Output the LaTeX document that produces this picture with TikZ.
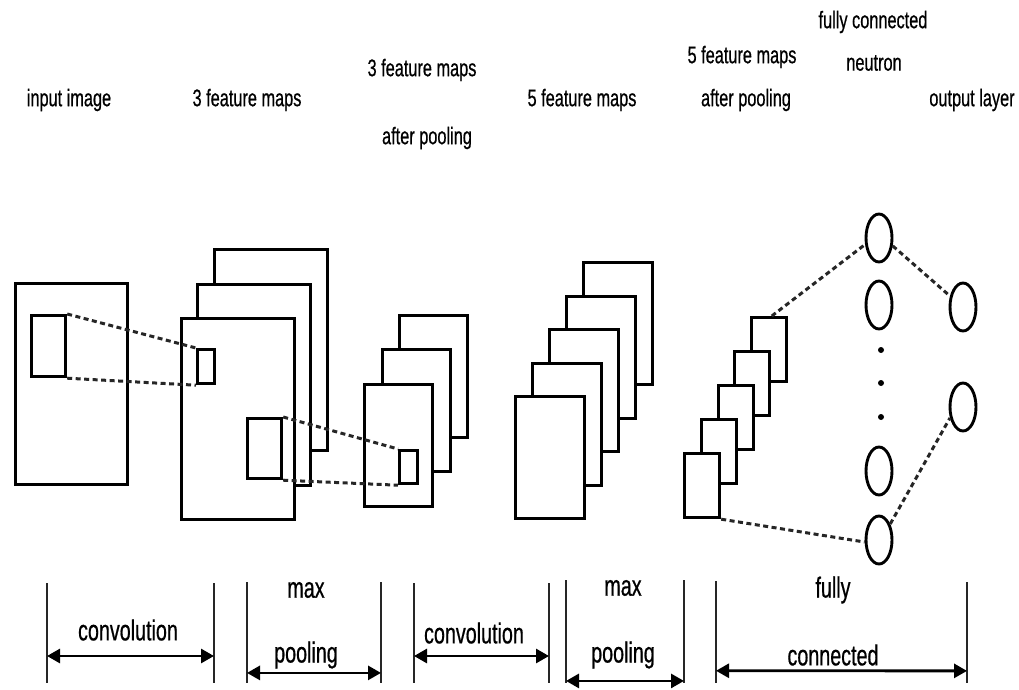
\documentclass[tikz,border=0pt]{standalone}
\usepackage{fontspec}
\setmainfont{Liberation Sans}[FakeStretch=0.68,FakeBold=0.6]
\usetikzlibrary{arrows.meta,calc,shapes.geometric}
\tikzset{
  fmap/.style={draw=black, fill=white, line width=3.2pt, rectangle, inner sep=0pt, anchor=north west},
  neuron/.style={draw=black, fill=white, line width=2.9pt, ellipse, inner sep=0pt, minimum width=26pt, minimum height=48pt},
  link/.style={line width=3pt, dash pattern=on 5pt off 3.5pt, black!85},
  bar/.style={line width=1.8pt, black!85},
  span/.style={line width=2.8pt, {Triangle[length=13pt,width=14pt]}-{Triangle[length=13pt,width=14pt]}},
  lbl/.style={font=\fontsize{24}{28}\selectfont, inner sep=0pt, text=black},
  blbl/.style={font=\fontsize{29}{33}\selectfont, inner sep=0pt, text=black},
  dot/.style={circle, fill=black, inner sep=0pt, minimum size=6pt}
}
\begin{document}
\begin{tikzpicture}[x=1pt,y=-1pt]
\useasboundingbox (0,0) rectangle (1019,690);
% top labels
\node[lbl] (t1) at (69,100) {input image};
\node[lbl] (t2) at (247,100) {3 feature maps};
\node[lbl] (t3a) at (422,70) {3 feature maps};
\node[lbl] (t3b) at (427,138) {after pooling};
\node[lbl] (t4) at (582,100) {5 feature maps};
\node[lbl] (t5a) at (742,57) {5 feature maps};
\node[lbl] (t5b) at (746,100) {after pooling};
\node[lbl] (t6a) at (873,22) {fully connected};
\node[lbl] (t6b) at (874,63) {neutron};
\node[lbl] (t7) at (972,100) {output layer};
% input image
\node[fmap, minimum width=112pt, minimum height=201pt] (in) at (14,282) {};
\node[fmap, minimum width=34pt, minimum height=61pt] (ink) at (30,314) {};
% 3 feature maps
\node[fmap, minimum width=113pt, minimum height=201pt] (c3) at (213,248) {};
\node[fmap, minimum width=113pt, minimum height=201pt] (c2) at (196,283) {};
\node[fmap, minimum width=113pt, minimum height=201pt] (c1) at (180,317) {};
\node[fmap, minimum width=17pt, minimum height=34pt] (ck) at (196,348) {};
\node[fmap, minimum width=34pt, minimum height=60pt] (cw) at (246,417) {};
% 3 pooled maps
\node[fmap, minimum width=68pt, minimum height=122pt] (q3) at (398,314) {};
\node[fmap, minimum width=68pt, minimum height=122pt] (q2) at (381,348) {};
\node[fmap, minimum width=68pt, minimum height=122pt] (q1) at (363,383) {};
\node[fmap, minimum width=18pt, minimum height=33pt] (qk) at (398,449) {};
% 5 feature maps
\node[fmap, minimum width=69pt, minimum height=122pt] (f5) at (582,261) {};
\node[fmap, minimum width=69pt, minimum height=122pt] (f4) at (565,295) {};
\node[fmap, minimum width=69pt, minimum height=122pt] (f3) at (548,328) {};
\node[fmap, minimum width=69pt, minimum height=122pt] (f2) at (531,362) {};
\node[fmap, minimum width=69pt, minimum height=122pt] (f1) at (514,395) {};
% 5 pooled maps
\node[fmap, minimum width=35pt, minimum height=64pt] (p5) at (750,316) {};
\node[fmap, minimum width=35pt, minimum height=64pt] (p4) at (733,350) {};
\node[fmap, minimum width=35pt, minimum height=64pt] (p3) at (717,384) {};
\node[fmap, minimum width=35pt, minimum height=64pt] (p2) at (700,418) {};
\node[fmap, minimum width=35pt, minimum height=64pt] (p1) at (683,452) {};
% neurons
\node[neuron] (n1) at (879,238) {};
\node[neuron] (n2) at (879,305) {};
\node[neuron] (n3) at (879,471) {};
\node[neuron] (n4) at (879,540) {};
\node[dot] (d1) at (881,350) {};
\node[dot] (d2) at (881,383) {};
\node[dot] (d3) at (881,417) {};
\node[neuron] (o1) at (963,307) {};
\node[neuron] (o2) at (963,407) {};
% dashed links
\draw[link] (ink.north east) -- (ck.north west);
\draw[link] (ink.south east) -- (ck.south west);
\draw[link] (cw.north east) -- (qk.north west);
\draw[link] (cw.south east) -- (qk.south west);
\coordinate (p5t) at ($(p5.north west)!0.57!(p5.north east)$);
\draw[link] (p5t) -- (n1.205);
\draw[link] (p1.south east) -- (n4.188);
\draw[link] (n1.-30) -- (o1.140);
\draw[link] (n4.55) -- (o2.220);
% bottom scale bars
\coordinate (b1t) at (47,583);  \coordinate (b1b) at (47,683);
\coordinate (b2t) at (214,583); \coordinate (b2b) at (214,683);
\coordinate (b3t) at (247,582); \coordinate (b3b) at (247,683);
\coordinate (b4t) at (381,582); \coordinate (b4b) at (381,683);
\coordinate (b5t) at (414,583); \coordinate (b5b) at (414,683);
\coordinate (b6t) at (549,583); \coordinate (b6b) at (549,683);
\coordinate (b7t) at (566,580); \coordinate (b7b) at (566,683);
\coordinate (b8t) at (684,580); \coordinate (b8b) at (684,683);
\coordinate (b9t) at (716,581); \coordinate (b9b) at (716,683);
\coordinate (b10t) at (967,582); \coordinate (b10b) at (967,683);
\foreach \i in {1,...,10} {\draw[bar] (b\i t) -- (b\i b);}
\draw[span] ($(b1t)!0.73!(b1b)$) -- ($(b2t)!0.73!(b2b)$);
\draw[span] ($(b3t)!0.9!(b3b)$) -- ($(b4t)!0.9!(b4b)$);
\draw[span] ($(b5t)!0.73!(b5b)$) -- ($(b6t)!0.73!(b6b)$);
\draw[span] ($(b7t)!0.98!(b7b)$) -- ($(b8t)!0.98!(b8b)$);
\draw[span] ($(b9t)!0.88!(b9b)$) -- ($(b10t)!0.88!(b10b)$);
\node[blbl] (l1) at (128,630) {convolution};
\node[blbl] (l2a) at (306,590) {max};
\node[blbl] (l2b) at (306,655) {pooling};
\node[blbl] (l3) at (474,633) {convolution};
\node[blbl] (l4a) at (623,588) {max};
\node[blbl] (l4b) at (623,655) {pooling};
\node[blbl] (l5a) at (833,590) {fully};
\node[blbl] (l5b) at (833,655) {connected};
\end{tikzpicture}
\end{document}
